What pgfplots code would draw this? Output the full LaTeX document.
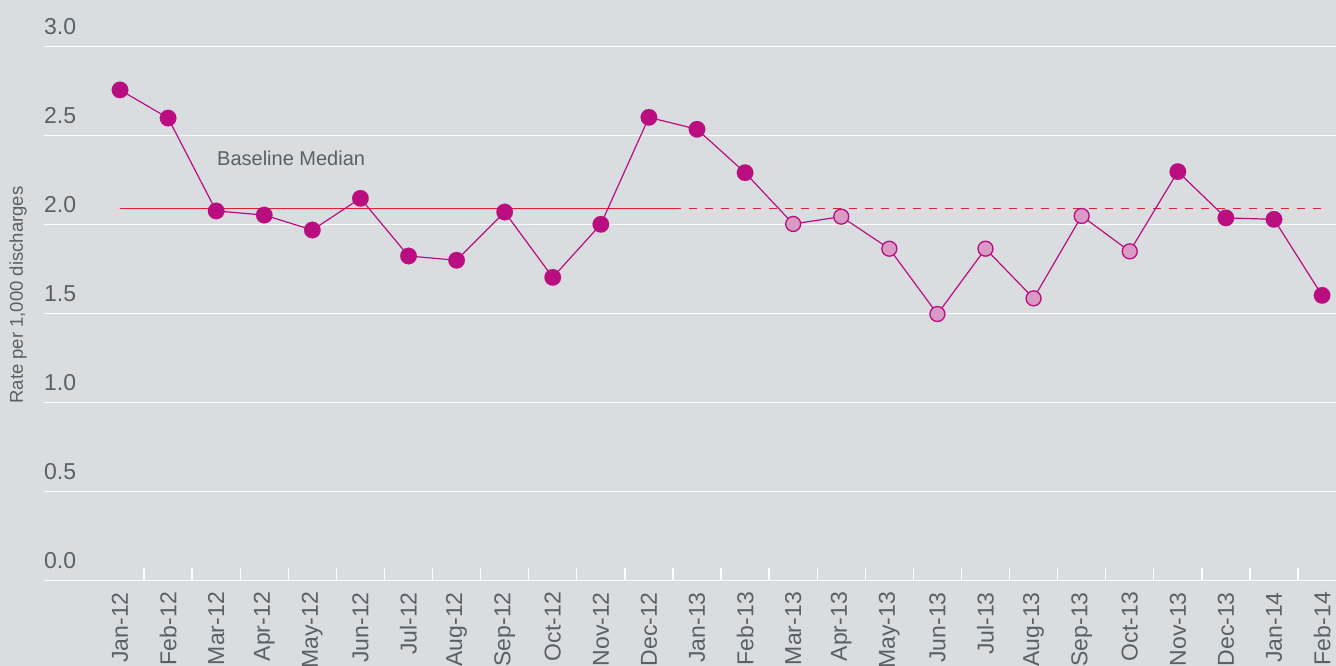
\documentclass[border=0pt]{standalone}
\usepackage{pgfplots}
\pgfplotsset{compat=1.18}
\usepackage{fontspec}
\setmainfont{Liberation Sans}
\definecolor{bgc}{HTML}{D9DDE0}
\definecolor{txt}{HTML}{596066}
\definecolor{mag}{HTML}{B90D80}
\definecolor{pinkl}{HTML}{D99BC5}
\definecolor{medred}{HTML}{E41E2B}
\begin{document}
\begin{tikzpicture}
\useasboundingbox (0,0) rectangle (1336pt,666pt);
\fill[bgc] (0,0) rectangle (1336pt,666pt);
\clip (0,0) rectangle (1336pt,666pt);
\begin{axis}[
  at={(44pt,85.5pt)}, anchor=south west,
  scale only axis, width=1292pt, height=534pt,
  xmin=-1.581, xmax=25.29, ymin=0, ymax=3,
  clip=false,
  axis line style={draw=none},
  tick pos=left,
  tick align=inside,
  /pgf/number format/assume math mode=true,
  ytick={0,0.5,1,1.5,2,2.5,3},
  yticklabel={\pgfmathprintnumber[fixed,fixed zerofill,precision=1]{\tick}},
  ymajorgrids,
  major grid style={white, line width=1.3pt},
  yticklabel style={anchor=south west, inner sep=0pt, yshift=11.5pt, font=\fontsize{23}{23}\selectfont, text=txt},
  xtick={0,...,25},
  xticklabels={Jan-12,Feb-12,Mar-12,Apr-12,May-12,Jun-12,Jul-12,Aug-12,Sep-12,Oct-12,Nov-12,Dec-12,Jan-13,Feb-13,Mar-13,Apr-13,May-13,Jun-13,Jul-13,Aug-13,Sep-13,Oct-13,Nov-13,Dec-13,Jan-14,Feb-14},
  xticklabel style={rotate=90, anchor=east, inner sep=0pt, font=\fontsize{23}{23}\selectfont, text=txt},
  xticklabel shift=11.5pt,
  minor xtick={0.5,1.5,...,24.5},
  major tick length=0pt,
  minor tick length=12pt,
  every minor tick/.style={white, line width=1.3pt},
  ylabel={Rate per 1,000 discharges},
  every axis y label/.style={at={(rel axis cs:-0.0201,0.5346)}, rotate=90, anchor=center, font=\fontsize{18.5}{18.5}\selectfont, text=txt},
]
\addplot[medred, line width=1.5pt] coordinates {(0,2.089) (11.5,2.089)};
\addplot[medred, line width=1.5pt, dash pattern=on 8pt off 8pt] coordinates {(11.5,2.089) (25,2.089)};
\addplot[mag, line width=1.2pt, mark=none] coordinates {
(0,2.756) (1,2.598) (2,2.076) (3,2.053) (4,1.969) (5,2.147) (6,1.823) (7,1.799)
(8,2.070) (9,1.703) (10,2.001) (11,2.602) (12,2.535) (13,2.291) (14,2.003) (15,2.044)
(16,1.864) (17,1.497) (18,1.864) (19,1.585) (20,2.048) (21,1.849) (22,2.297) (23,2.037)
(24,2.029) (25,1.602)};
\addplot[mag, only marks, mark=*, mark size=8.3pt, mark options={fill=mag, draw=mag, line width=0.1pt}] coordinates {
(0,2.756) (1,2.598) (2,2.076) (3,2.053) (4,1.969) (5,2.147) (6,1.823) (7,1.799)
(8,2.070) (9,1.703) (10,2.001) (11,2.602) (12,2.535) (13,2.291)
(22,2.297) (23,2.037) (24,2.029) (25,1.602)};
\addplot[mag, only marks, mark=*, mark size=7.5pt, mark options={fill=pinkl, draw=mag, line width=1.3pt}] coordinates {
(14,2.003) (15,2.044) (16,1.864) (17,1.497) (18,1.864) (19,1.585) (20,2.048) (21,1.849)};
\node[anchor=base west, inner sep=0pt, font=\fontsize{20}{20}\selectfont, text=txt] at (axis cs:2.017,2.329) {Baseline Median};
\end{axis}
\end{tikzpicture}
\end{document}
